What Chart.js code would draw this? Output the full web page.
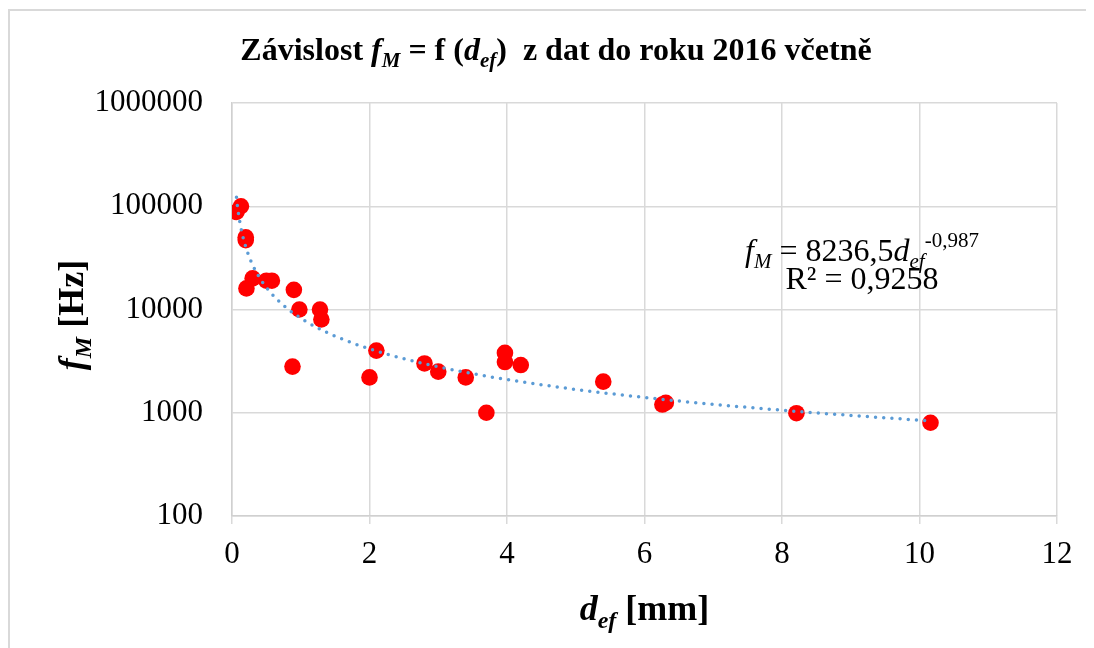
<!DOCTYPE html>
<html><head><meta charset="utf-8">
<script src="https://cdn.jsdelivr.net/npm/chart.js@4/dist/chart.umd.min.js"></script>
<style>html,body{margin:0;padding:0;background:#fff}canvas{display:block}</style>
</head><body>
<canvas id="c" width="1094" height="648"></canvas>
<script>
// ---- data ----
const dEf = [0.065, 0.13, 0.20, 0.20, 0.21, 0.30, 0.50, 0.58, 0.88, 0.90, 0.98, 1.28, 1.30, 2.00, 2.10, 2.80, 3.00, 3.40, 3.70, 3.97, 3.97, 4.20, 5.40, 6.26, 6.31, 8.21, 10.16];
const fM  = [88000, 100000, 50000, 47000, 16000, 20000, 19000, 19000, 2800, 15500, 10000, 10000, 8000, 2200, 4000, 3000, 2500, 2200, 1000, 3800, 3100, 2900, 2000, 1200, 1250, 990, 800];
const xTickStep = 2;
const xRange = [0, 12];
const yTicks = [100, 1000, 10000, 100000, 1000000];
// trendline equation shown on the chart: fM = 8236.5 * dEf^-0.987
const trendA = 8236.5;
const trendB = -0.987;

const SERIF = '"Liberation Serif", "Times New Roman", serif';

const points = dEf.map((x, i) => ({x: x, y: fM[i]}));
const xMin = Math.min(...dEf), xMax = Math.max(...dEf);
const trendPts = [];
const N = 300;
for (let i = 0; i <= N; i++) {
  const x = Math.exp(Math.log(xMin) + (Math.log(xMax) - Math.log(xMin)) * i / N);
  trendPts.push({x: x, y: trendA * Math.pow(x, trendB)});
}

function drawRich(ctx, segs, x, y, align) {
  let w = 0;
  for (const s of segs) { ctx.font = s[1]; w += ctx.measureText(s[0]).width; }
  let cx = align === 'center' ? x - w / 2 : x;
  ctx.textAlign = 'left';
  ctx.textBaseline = 'alphabetic';
  for (const s of segs) {
    ctx.font = s[1];
    ctx.fillText(s[0], cx, y + (s[2] || 0));
    cx += ctx.measureText(s[0]).width;
  }
}

const textPlugin = {
  id: 'richText',
  beforeDraw(chart) {
    const ctx = chart.ctx;
    ctx.save();
    ctx.fillStyle = '#fff';
    ctx.fillRect(0, 0, chart.width, chart.height);
    ctx.strokeStyle = '#d9d9d9';
    ctx.lineWidth = 2;
    ctx.beginPath();
    ctx.moveTo(9, chart.height);
    ctx.lineTo(9, 10);
    ctx.lineTo(1086, 10);
    ctx.stroke();
    ctx.restore();
  },
  afterDraw(chart) {
    const ctx = chart.ctx;
    const ca = chart.chartArea;
    ctx.save();
    ctx.fillStyle = '#000';
    const B32 = `bold 32px ${SERIF}`, BI32 = `italic bold 32px ${SERIF}`, BI21 = `italic bold 21px ${SERIF}`;
    drawRich(ctx, [
      ['Závislost ', B32], ['f', BI32], ['M', BI21, 7], [' = f (', B32],
      ['d', BI32], ['ef', BI21, 7], [')  z dat do roku 2016 včetně', B32]
    ], 556, 60, 'center');

    const B36 = `bold 36px ${SERIF}`, BI36 = `italic bold 36px ${SERIF}`, BI24 = `italic bold 24px ${SERIF}`;
    drawRich(ctx, [['d', BI36], ['ef', BI24, 8], [' [mm]', B36]], (ca.left + ca.right) / 2, 620, 'center');

    ctx.save();
    ctx.translate(83, 315);
    ctx.rotate(-Math.PI / 2);
    drawRich(ctx, [['f', BI36], ['M', BI24, 8], [' [Hz]', B36]], 0, 0, 'center');
    ctx.restore();

    const R32 = `32px ${SERIF}`, I32 = `italic 32px ${SERIF}`, I21 = `italic 21px ${SERIF}`, R21 = `21px ${SERIF}`;
    drawRich(ctx, [['f', I32], ['M', I21, 7], [' = 8236,5', R32], ['d', I32], ['ef', I21, 7], ['-0,987', R21, -14]], 862, 261, 'center');
    drawRich(ctx, [['R² = 0,9258', R32]], 862, 289, 'center');
    ctx.restore();
  }
};

new Chart(document.getElementById('c'), {
  type: 'scatter',
  data: {
    datasets: [
      {
        type: 'line', label: 'trend', data: trendPts,
        borderColor: '#5B9BD5', borderWidth: 3.5, borderDash: [0, 8.2], borderCapStyle: 'round',
        pointRadius: 0, pointHoverRadius: 0, fill: false, tension: 0, order: 0
      },
      {
        label: 'fM', data: points,
        backgroundColor: '#FF0000', borderWidth: 0, pointRadius: 8.3, pointHoverRadius: 8.3, order: 1
      }
    ]
  },
  options: {
    responsive: false, animation: false, devicePixelRatio: 1,
    layout: { padding: { top: 103, right: 37, bottom: 0, left: 0 } },
    plugins: { legend: { display: false }, tooltip: { enabled: false }, title: { display: false } },
    scales: {
      x: {
        type: 'linear', min: xRange[0], max: xRange[1],
        ticks: { stepSize: xTickStep, color: '#000', font: { family: SERIF, size: 31 }, padding: 12, maxRotation: 0 },
        grid: { color: '#d9d9d9', lineWidth: 1.5, tickLength: 8, drawTicks: true },
        border: { color: '#d0d0d0', width: 1.5 },
        afterFit(s) { s.height = 132; }
      },
      y: {
        type: 'logarithmic', min: yTicks[0], max: yTicks[yTicks.length - 1],
        afterBuildTicks(s) { s.ticks = yTicks.map(v => ({ value: v })); },
        ticks: { color: '#000', font: { family: SERIF, size: 31 }, padding: 29, callback: v => String(v) },
        grid: { color: '#d9d9d9', lineWidth: 1.5, drawTicks: false },
        border: { color: '#d0d0d0', width: 1.5 },
        afterFit(s) { s.width = 232; }
      }
    }
  },
  plugins: [textPlugin]
});
</script>
</body></html>
